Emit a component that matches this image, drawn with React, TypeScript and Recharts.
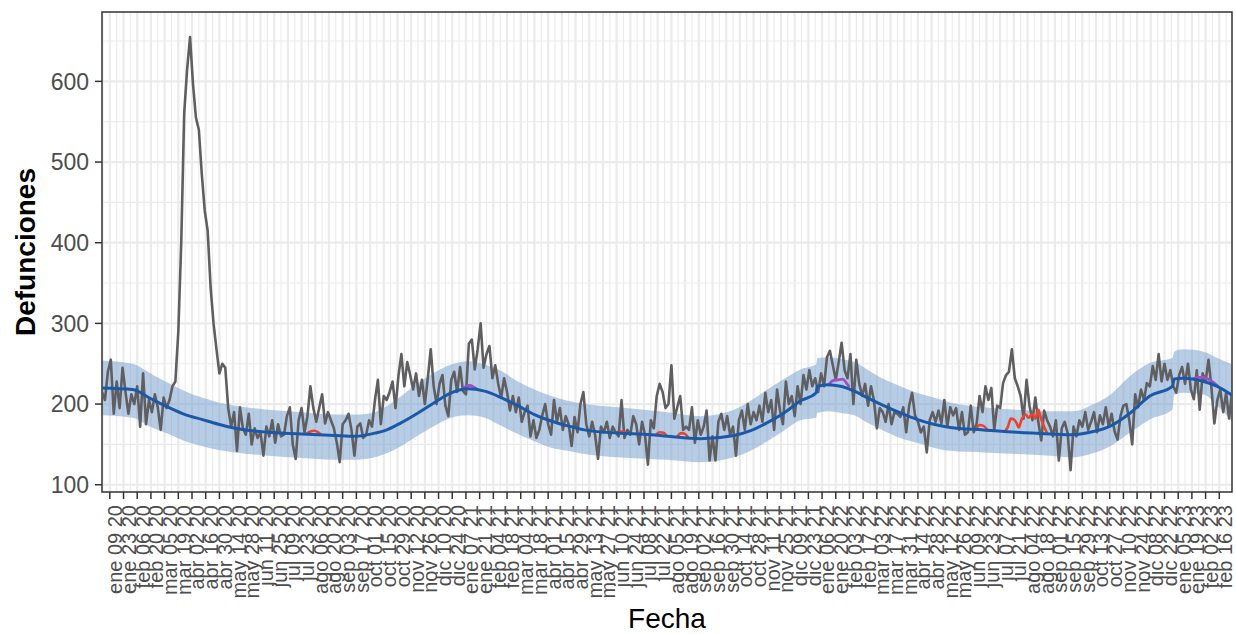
import { ComposedChart, Line, Area, XAxis, YAxis, CartesianGrid, ReferenceArea } from 'recharts'

const FONT = '"Liberation Sans", Arial, Helvetica, sans-serif'
const START = Date.UTC(2020, 0, 1)
const DAY = 86400000
const MONTHS = ['ene', 'feb', 'mar', 'abr', 'may', 'jun', 'jul', 'ago', 'sep', 'oct', 'nov', 'dic']

// x axis labels, every two weeks
const tickLabels = [
  'ene 09 20', 'ene 23 20', 'feb 06 20', 'feb 20 20', 'mar 05 20', 'mar 19 20', 'abr 02 20', 'abr 16 20',
  'abr 30 20', 'may 14 20', 'may 28 20', 'jun 11 20', 'jun 25 20', 'jul 09 20', 'jul 23 20', 'ago 06 20',
  'ago 20 20', 'sep 03 20', 'sep 17 20', 'oct 01 20', 'oct 15 20', 'oct 29 20', 'nov 12 20', 'nov 26 20',
  'dic 10 20', 'dic 24 20',
  'ene 07 21', 'ene 21 21', 'feb 04 21', 'feb 18 21', 'mar 04 21', 'mar 18 21', 'abr 01 21', 'abr 15 21',
  'abr 29 21', 'may 13 21', 'may 27 21', 'jun 10 21', 'jun 24 21', 'jul 08 21', 'jul 22 21', 'ago 05 21',
  'ago 19 21', 'sep 02 21', 'sep 16 21', 'sep 30 21', 'oct 14 21', 'oct 28 21', 'nov 11 21', 'nov 25 21',
  'dic 09 21', 'dic 23 21',
  'ene 06 22', 'ene 20 22', 'feb 03 22', 'feb 17 22', 'mar 03 22', 'mar 17 22', 'mar 31 22', 'abr 14 22',
  'abr 28 22', 'may 12 22', 'may 26 22', 'jun 09 22', 'jun 23 22', 'jul 07 22', 'jul 21 22', 'ago 04 22',
  'ago 18 22', 'sep 01 22', 'sep 15 22', 'sep 29 22', 'oct 13 22', 'oct 27 22', 'nov 10 22', 'nov 24 22',
  'dic 08 22', 'dic 22 22',
  'ene 05 23', 'ene 19 23', 'feb 02 23', 'feb 16 23',
]

const yTicks = [100, 200, 300, 400, 500, 600]
const yMinor = [150, 250, 350, 450, 550, 650]

// observed daily deaths, read every 3 days from 2020-01-01
const observedStart = '2020-01-01'
const observedStep = 3
const observed = [
  215, 205, 240, 255, 188, 228, 195, 245, 215, 188,
  212, 200, 222, 172, 238, 175, 205, 190, 212, 196,
  168, 208, 195, 205, 222, 228, 290, 400, 560, 615,
  655, 597, 555, 540, 485, 440, 415, 345, 300, 268,
  238, 250, 245, 195, 172, 190, 142, 196, 170, 162,
  188, 150, 170, 158, 165, 136, 172, 160, 180, 152,
  175, 160, 162, 185, 196, 150, 132, 180, 195, 165,
  185, 222, 195, 178, 195, 212, 176, 190, 180, 170,
  152, 128, 175, 180, 188, 168, 136, 172, 176, 158,
  162, 180, 172, 205, 230, 175, 210, 205, 215, 228,
  195, 235, 262, 222, 252, 236, 218, 238, 210, 230,
  200, 232, 268, 222, 200, 225, 236, 198, 185, 230,
  240, 215, 246, 216, 212, 275, 280, 243, 268, 300,
  245, 262, 272, 232, 248, 225, 208, 232, 215, 192,
  210, 190, 208, 178, 190, 198, 160, 180, 158, 168,
  186, 200, 175, 162, 205, 178, 195, 168, 185, 175,
  148, 184, 165, 200, 215, 175, 160, 178, 162, 132,
  172, 165, 178, 158, 172, 165, 160, 205, 158, 168,
  162, 185, 175, 150, 178, 162, 125, 180, 170, 210,
  225, 215, 195, 200, 248, 182, 196, 210, 168, 172,
  168, 196, 152, 180, 162, 172, 192, 130, 160, 130,
  178, 188, 168, 185, 162, 172, 136, 180, 192, 168,
  200, 175, 190, 180, 198, 178, 214, 190, 205, 168,
  218, 192, 175, 228, 200, 210, 185, 222, 200, 236,
  218, 242, 222, 232, 215, 238, 222, 258, 266, 248,
  230, 252, 276, 242, 232, 262, 200, 255, 225, 210,
  225, 198, 222, 205, 170, 195, 190, 178, 200, 175,
  190, 188, 184, 196, 165, 198, 214, 186, 178, 165,
  172, 140, 180, 190, 178, 192, 176, 205, 172, 196,
  186, 195, 168, 190, 162, 165, 198, 165, 176, 210,
  190, 222, 205, 220, 168, 198, 195, 226, 236, 240,
  268, 232, 222, 210, 182, 230, 198, 180, 208, 178,
  155, 192, 180, 172, 160, 180, 130, 170, 178, 164,
  118, 172, 160, 180, 172, 190, 168, 178, 190, 165,
  186, 175, 196, 172, 188, 166, 156, 185, 198, 200,
  180, 150, 212, 196, 218, 205, 226, 222, 247, 230,
  262, 228, 250, 230, 242, 222, 214, 236, 246, 225,
  250, 218, 206, 242, 193, 238, 228, 255, 220, 176,
  205, 218, 190, 214, 182, 215,
]

// expected deaths with its interval
const expectedDates = [
  '2020-01-01', '2020-02-01', '2020-02-21', '2020-03-09', '2020-03-26', '2020-04-12', '2020-04-29', '2020-05-16',
  '2020-06-19', '2020-07-23', '2020-08-26', '2020-09-16', '2020-10-06', '2020-10-16', '2020-11-02', '2020-11-19',
  '2020-12-06', '2020-12-23', '2021-01-09', '2021-01-26', '2021-02-12', '2021-03-01', '2021-03-18', '2021-04-04',
  '2021-04-21', '2021-05-08', '2021-06-11', '2021-07-15', '2021-08-01', '2021-09-04', '2021-10-08', '2021-10-25',
  '2021-11-11', '2021-11-28', '2021-12-15', '2021-12-31', '2022-01-01', '2022-01-12', '2022-01-25', '2022-02-08',
  '2022-02-21', '2022-03-10', '2022-03-27', '2022-04-13', '2022-04-30', '2022-05-17', '2022-06-20', '2022-07-24',
  '2022-08-27', '2022-09-20', '2022-10-07', '2022-10-28', '2022-11-17', '2022-12-07', '2022-12-30', '2023-01-01',
  '2023-01-10', '2023-01-31', '2023-02-14', '2023-03-01',
]
const expected = [
  220, 218, 206, 196, 187, 181, 175, 170, 165, 163, 161, 160, 164, 167, 177, 189,
  202, 214, 219, 216, 208, 198, 187, 179, 173, 168, 164, 162, 160, 157, 161, 167,
  177, 189, 204, 214, 222, 224, 222, 216, 208, 198, 189, 181, 175, 171, 168, 165,
  163, 162, 165, 173, 189, 210, 222, 231, 232, 228, 222, 211,
]
const lower = [
  186, 183, 171, 163, 154, 148, 143, 140, 136, 133, 131, 131, 134, 138, 148, 161,
  173, 183, 186, 183, 173, 163, 154, 146, 142, 138, 134, 132, 131, 128, 134, 142,
  154, 167, 180, 183, 189, 191, 189, 186, 177, 167, 158, 152, 146, 142, 140, 138,
  136, 134, 138, 148, 165, 181, 193, 212, 214, 212, 198, 179,
]
const upper = [
  254, 250, 237, 226, 216, 208, 202, 198, 193, 190, 187, 187, 190, 196, 210, 226,
  239, 249, 253, 249, 241, 228, 218, 210, 204, 200, 196, 192, 190, 185, 193, 204,
  218, 231, 243, 249, 257, 258, 256, 252, 243, 231, 222, 214, 208, 202, 196, 193,
  191, 191, 198, 212, 235, 251, 257, 265, 268, 265, 257, 249,
]

// red estimate, null marks a break
const redDates = [
  '2020-07-28', '2020-08-01', '2020-08-05', '2020-08-09', '2020-08-12', '2020-08-20',
  '2021-06-10', '2021-06-14', '2021-06-18', '2021-06-21', '2021-06-30',
  '2021-07-20', '2021-07-24', '2021-07-28', '2021-07-31', '2021-08-05',
  '2021-08-11', '2021-08-15', '2021-08-19', '2021-08-22', '2022-01-01',
  '2022-06-12', '2022-06-16', '2022-06-20', '2022-06-24', '2022-07-01',
  '2022-07-12', '2022-07-15', '2022-07-18', '2022-07-21', '2022-07-24', '2022-07-26', '2022-07-29',
  '2022-08-02', '2022-08-05', '2022-08-09', '2022-08-12', '2022-08-15', '2022-08-18', '2022-08-21', '2022-08-24',
]
const redValues = [
  163, 166, 167, 165, 162, null,
  163.5, 166, 165, 163, null,
  161.5, 165, 164.5, 160.5, null,
  159.5, 164, 163, 158.5, null,
  168, 174, 173, 168, null,
  166, 172, 182, 181, 176, 171, 181,
  187, 183, 188, 182, 193, 181, 172, 164,
]

// purple estimate around the winter peaks
const purpleDates = [
  '2021-01-03', '2021-01-07', '2021-01-11', '2021-01-15', '2021-01-19', '2021-06-01',
  '2022-01-13', '2022-01-17', '2022-01-22', '2022-01-27', '2022-01-31', '2022-02-03', '2022-06-01',
  '2023-01-20', '2023-01-25', '2023-01-31', '2023-02-06', '2023-02-12', '2023-02-15',
]
const purpleValues = [
  218, 222, 223, 221, 218, null,
  224, 229, 230, 231, 226, 221, null,
  231, 233, 233, 230, 225, 221,
]

const dayOf = (iso: string) => (Date.parse(iso) - START) / DAY
const tickDay = (label: string) => {
  const [m, d, y] = label.split(' ')
  return (Date.UTC(2000 + Number(y), MONTHS.indexOf(m), Number(d)) - START) / DAY
}

const tickDays = tickLabels.map(tickDay)
const labelByDay = new Map(tickDays.map((d, i) => [d, tickLabels[i]]))
const weekDays: number[] = []
for (let d = tickDays[0] - 7; d < 1155; d += 7) weekDays.push(d)

const observedRows = observed.map((v, i) => ({ day: dayOf(observedStart) + i * observedStep, v }))
const expectedRows = expectedDates.map((iso, i) => ({
  day: dayOf(iso),
  v: expected[i],
  band: [lower[i], upper[i]],
}))
const redRows = redDates.map((iso, i) => ({ day: dayOf(iso), v: redValues[i] }))
const purpleRows = purpleDates.map((iso, i) => ({ day: dayOf(iso), v: purpleValues[i] }))

function DateTick(props: any) {
  const { x, y, payload } = props
  return (
    <text
      transform={`translate(${x},${y}) rotate(-90)`}
      textAnchor="end"
      dy="0.62em"
      fontSize={20}
      fill="#4d4d4d"
      fontFamily={FONT}
    >
      {labelByDay.get(payload.value)}
    </text>
  )
}

export default function App() {
  return (
    <div style={{ position: 'absolute', left: 0, top: 0, background: '#fff', fontFamily: FONT }}>
      <ComposedChart width={1236} height={634} margin={{ top: 12, right: 4, left: 0, bottom: 0 }}>
        <CartesianGrid stroke="#ebebeb" strokeWidth={1.1} verticalValues={weekDays} horizontalValues={yMinor} />
        <CartesianGrid stroke="#ebebeb" strokeWidth={2.2} verticalValues={tickDays} horizontalValues={yTicks} />
        <XAxis
          type="number"
          dataKey="day"
          domain={[0, 1155]}
          allowDataOverflow
          ticks={tickDays}
          interval={0}
          height={142}
          axisLine={false}
          tickSize={7}
          tickMargin={6}
          tickLine={{ stroke: '#333333', strokeWidth: 1.5 }}
          tick={(p: any) => <DateTick {...p} />}
          label={{
            content: () => (
              <text x={667} y={628} textAnchor="middle" fontSize={28} fill="#000" fontFamily={FONT}>
                Fecha
              </text>
            ),
          }}
        />
        <YAxis
          type="number"
          domain={[91, 686]}
          allowDataOverflow
          ticks={yTicks}
          interval={0}
          width={102}
          axisLine={false}
          tickSize={7}
          tickMargin={6}
          tickLine={{ stroke: '#333333', strokeWidth: 1.5 }}
          tick={{ fontSize: 23, fill: '#4d4d4d', fontFamily: FONT }}
          label={{
            content: () => (
              <text
                x={35}
                y={252}
                transform="rotate(-90 35 252)"
                textAnchor="middle"
                fontSize={28}
                fontWeight="bold"
                fill="#000"
                fontFamily={FONT}
              >
                Defunciones
              </text>
            ),
          }}
        />
        <Area
          data={expectedRows}
          dataKey="band"
          type="monotone"
          stroke="none"
          fill="#6f9bcd"
          fillOpacity={0.5}
          isAnimationActive={false}
        />
        <Line
          data={observedRows}
          dataKey="v"
          type="linear"
          stroke="#5f5f62"
          strokeWidth={2.6}
          strokeLinejoin="round"
          dot={false}
          isAnimationActive={false}
        />
        <Line
          data={redRows}
          dataKey="v"
          type="monotone"
          stroke="#ea4330"
          strokeWidth={2.6}
          dot={false}
          connectNulls={false}
          isAnimationActive={false}
        />
        <Line
          data={purpleRows}
          dataKey="v"
          type="monotone"
          stroke="#9c50c2"
          strokeWidth={2.8}
          dot={false}
          connectNulls={false}
          isAnimationActive={false}
        />
        <Line
          data={expectedRows}
          dataKey="v"
          type="monotone"
          stroke="#1c58a8"
          strokeWidth={3}
          dot={false}
          isAnimationActive={false}
        />
        <ReferenceArea x1={0} x2={1155} y1={91} y2={686} fill="none" stroke="#333333" strokeWidth={1.5} />
      </ComposedChart>
    </div>
  )
}
